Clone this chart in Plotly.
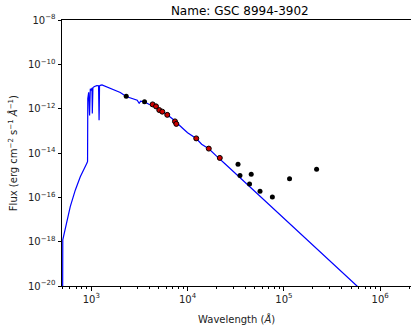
import plotly.graph_objects as go

# model spectrum (wavelength in Angstrom, flux)
model_wave = [500, 504, 506, 605, 682, 769, 902, 915, 920, 940, 960, 968, 977, 995,
              1017, 1025, 1032, 1040, 1080, 1143, 1190, 1205, 1211, 1218, 1240, 1291,
              1400, 1513, 1745, 2000, 2307, 2700, 3000, 3150, 3250, 3573, 4000,
              4700, 5500, 6152, 7000, 8000, 9000, 10000, 12300, 14000, 16600,
              20000, 24600, 574000, 1000000]
model_flux = [1e-22, 1e-21, 1.2e-18, 3.8e-17, 2.1e-16, 8.5e-16, 3.5e-15, 4.2e-15, 2.9e-12,
              5.5e-12, 4.9e-13, 6e-12, 8e-12, 6.5e-12, 8.5e-12, 6e-13, 7e-12, 9e-12,
              1.0e-11, 1.1e-11, 1.08e-11, 3.0e-13, 1.0e-12, 1.05e-11, 1.12e-11, 1.17e-11,
              1.02e-11, 8.9e-12, 7.2e-12, 5.4e-12, 3.55e-12, 2.9e-12, 2.4e-12, 1.7e-12,
              2.2e-12, 2.05e-12, 1.55e-12, 1.2e-12, 7.6e-13, 5.3e-13, 3.4e-13, 1.9e-13,
              1.25e-13, 8.2e-14, 4.5e-14, 2.5e-14, 1.55e-14, 7.2e-15, 3.2e-15, 1e-20, 1e-21]

# photometry used in the fit (red) and the rest (black)
fit_wave = [4335, 4700, 5083, 5461, 6152, 7396, 7638, 12300, 16600, 21600]
fit_flux = [1.56e-12, 1.27e-12, 8.65e-13, 7.33e-13, 5.25e-13, 2.67e-13, 2.06e-13,
            4.56e-14, 1.58e-14, 6.0e-15]
other_wave = [2307, 3573, 33400, 35000, 45800, 44000, 56500, 75900, 114500, 218600]
other_flux = [3.59e-12, 2.03e-12, 3.12e-15, 9.55e-16, 1.10e-15, 4.03e-16, 1.88e-16,
              1.04e-16, 6.98e-16, 1.86e-15]

x_major = [1e3, 1e4, 1e5, 1e6]
x_labels = ["10<sup>3</sup>", "10<sup>4</sup>", "10<sup>5</sup>", "10<sup>6</sup>"]
x_minor = [m * 10**e for e in range(2, 7) for m in range(2, 10)]
y_major = [1e-8, 1e-10, 1e-12, 1e-14, 1e-16, 1e-18, 1e-20]
y_labels = ["10<sup>\u22128</sup>", "10<sup>\u221210</sup>", "10<sup>\u221212</sup>",
            "10<sup>\u221214</sup>", "10<sup>\u221216</sup>", "10<sup>\u221218</sup>",
            "10<sup>\u221220</sup>"]

fig = go.Figure()
fig.add_trace(go.Scatter(x=model_wave, y=model_flux, mode="lines",
                         line=dict(color="#0000ff", width=1.2)))
fig.add_trace(go.Scatter(x=other_wave, y=other_flux, mode="markers",
                         marker=dict(color="black", size=5)))
fig.add_trace(go.Scatter(x=fit_wave, y=fit_flux, mode="markers",
                         marker=dict(color="#cc0000", size=5,
                                     line=dict(color="black", width=1))))

fig.update_layout(
    width=412, height=331,
    margin=dict(l=62, r=1, t=20, b=45),
    plot_bgcolor="white", paper_bgcolor="white",
    showlegend=False,
    font=dict(family="DejaVu Sans", size=10, color="#222"),
    title=dict(text="Name: GSC 8994-3902", x=0.582, xanchor="center",
               y=0.968, yanchor="middle", font=dict(size=12, color="black")),
)
fig.update_xaxes(type="log", range=[2.696, 6.32], showgrid=False, zeroline=False,
                 showline=True, linecolor="black", linewidth=1, mirror=True,
                 ticks="outside", ticklen=3.5, tickcolor="black",
                 tickvals=x_major, ticktext=x_labels, automargin=False,
                 minor=dict(tickvals=x_minor, ticks="outside", ticklen=2, tickcolor="black"))
fig.update_yaxes(type="log", range=[-20, -8], showgrid=False, zeroline=False,
                 showline=True, linecolor="black", linewidth=1, automargin=False,
                 ticks="outside", ticklen=3.5, tickcolor="black",
                 tickvals=y_major, ticktext=y_labels)

fig.add_annotation(text="Wavelength (<i>Å</i>)", xref="paper", yref="paper",
                   x=0.5, y=-0.125, yanchor="middle", showarrow=False,
                   font=dict(size=10))
fig.add_annotation(text="Flux (erg cm<sup>\u22122</sup> s<sup>\u22121</sup> <i>Å</i><sup>\u22121</sup>)",
                   xref="paper", yref="paper", x=-0.14, y=0.5, textangle=-90,
                   xanchor="center", yanchor="middle", showarrow=False,
                   font=dict(size=10))

fig.write_html("out.html", config={"displayModeBar": False},
               post_script="document.body.style.margin='0';")
